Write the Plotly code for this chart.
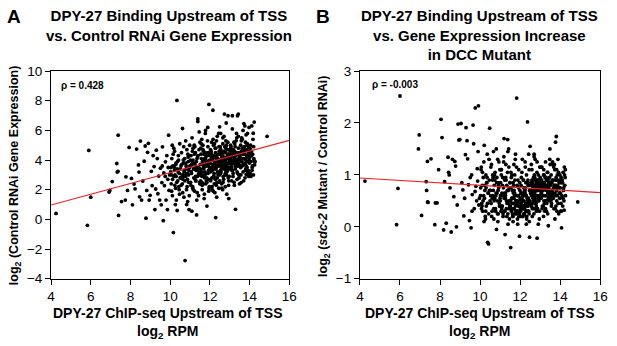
import plotly.graph_objects as go

# ---------------- data ----------------
# DPY-27 ChIP-seq upstream of TSS, log2 RPM (same genes in both panels)
x_rpm = [
    4.25,5.83,5.9,6.0,6.92,6.96,7.08,7.31,7.33,7.37,
    7.38,7.4,7.55,7.74,7.77,7.85,7.93,8.05,8.1,8.18,
    8.23,8.31,8.4,8.43,8.46,8.5,8.56,8.62,8.69,8.74,
    8.78,8.82,8.86,8.9,8.94,8.99,9.05,9.09,9.14,9.19,
    9.23,9.27,9.3,9.35,9.38,9.42,9.47,9.51,9.55,9.58,
    9.61,9.65,9.68,9.71,9.76,9.79,9.83,9.86,9.88,9.92,
    9.94,9.6,9.75,9.9,9.97,
    # 10.0-10.5
    10.02,10.05,10.08,10.11,10.13,10.16,10.19,10.22,10.24,10.27,
    10.29,10.31,10.34,10.36,10.38,10.41,10.43,10.46,10.48,10.5,
    10.03,10.07,10.12,10.18,10.21,10.26,10.33,10.37,10.42,10.47,
    10.06,10.15,10.23,10.28,10.35,10.4,10.45,10.1,10.2,10.3,
    # 10.5-11.0
    10.52,10.55,10.57,10.6,10.62,10.64,10.67,10.69,10.71,10.73,
    10.75,10.77,10.8,10.82,10.84,10.86,10.88,10.91,10.93,10.95,
    10.97,10.99,10.53,10.58,10.63,10.66,10.7,10.74,10.78,10.81,
    10.85,10.89,10.92,10.96,10.54,10.61,10.68,10.72,10.79,10.83,
    10.87,10.9,10.94,10.98,10.65,
    # 11.0-11.5
    11.01,11.03,11.05,11.07,11.09,11.11,11.13,11.15,11.17,11.19,
    11.21,11.23,11.25,11.27,11.29,11.31,11.33,11.35,11.37,11.39,
    11.41,11.43,11.45,11.47,11.49,11.02,11.06,11.1,11.14,11.18,
    11.22,11.26,11.3,11.34,11.38,11.42,11.46,11.04,11.08,11.12,
    11.16,11.2,11.24,11.28,11.32,11.36,11.4,11.44,11.48,11.5,
    11.0,11.15,11.27,11.39,11.45,
    # 11.5-12.0
    11.51,11.53,11.55,11.57,11.59,11.61,11.63,11.65,11.67,11.69,
    11.71,11.73,11.75,11.77,11.79,11.81,11.83,11.85,11.87,11.89,
    11.91,11.93,11.95,11.97,11.99,11.52,11.56,11.6,11.64,11.68,
    11.72,11.76,11.8,11.84,11.88,11.92,11.96,11.54,11.58,11.62,
    11.66,11.7,11.74,11.78,11.82,11.86,11.9,11.94,11.98,11.53,
    11.57,11.61,11.65,11.69,11.73,11.77,11.81,11.85,11.89,11.93,
    11.97,11.6,11.7,11.8,11.9,
    # 12.0-12.5
    12.01,12.03,12.05,12.07,12.09,12.11,12.13,12.15,12.17,12.19,
    12.21,12.23,12.25,12.27,12.29,12.31,12.33,12.35,12.37,12.39,
    12.41,12.43,12.45,12.47,12.49,12.02,12.06,12.1,12.14,12.18,
    12.22,12.26,12.3,12.34,12.38,12.42,12.46,12.5,12.04,12.08,
    12.12,12.16,12.2,12.24,12.28,12.32,12.36,12.4,12.44,12.48,
    12.03,12.07,12.11,12.15,12.19,12.23,12.27,12.31,12.35,12.39,
    12.43,12.47,12.05,12.13,12.21,12.29,12.37,12.45,12.09,12.17,
    12.25,12.33,12.41,12.49,12.12,
    # 12.5-13.0
    12.51,12.53,12.55,12.57,12.59,12.61,12.63,12.65,12.67,12.69,
    12.71,12.73,12.75,12.77,12.79,12.81,12.83,12.85,12.87,12.89,
    12.91,12.93,12.95,12.97,12.99,12.52,12.56,12.6,12.64,12.68,
    12.72,12.76,12.8,12.84,12.88,12.92,12.96,13.0,12.54,12.58,
    12.62,12.66,12.7,12.74,12.78,12.82,12.86,12.9,12.94,12.98,
    12.53,12.57,12.61,12.65,12.69,12.73,12.77,12.81,12.85,12.89,
    12.93,12.97,12.55,12.63,12.71,12.79,12.87,12.95,12.59,12.67,
    12.75,12.83,12.91,12.99,12.6,12.7,12.8,12.9,12.64,12.84,
    # 13.0-13.5
    13.01,13.03,13.05,13.07,13.09,13.11,13.13,13.15,13.17,13.19,
    13.21,13.23,13.25,13.27,13.29,13.31,13.33,13.35,13.37,13.39,
    13.41,13.43,13.45,13.47,13.49,13.02,13.06,13.1,13.14,13.18,
    13.22,13.26,13.3,13.34,13.38,13.42,13.46,13.5,13.04,13.08,
    13.12,13.16,13.2,13.24,13.28,13.32,13.36,13.4,13.44,13.48,
    13.05,13.13,13.21,13.29,13.37,13.45,13.09,13.17,13.25,13.33,
    13.41,13.49,13.03,13.11,13.19,13.27,13.35,13.43,13.15,13.31,
    # 13.5-14.0
    13.51,13.53,13.55,13.57,13.59,13.61,13.63,13.65,13.67,13.69,
    13.71,13.73,13.75,13.77,13.79,13.81,13.83,13.85,13.87,13.89,
    13.91,13.93,13.95,13.97,13.99,13.52,13.56,13.6,13.64,13.68,
    13.72,13.76,13.8,13.84,13.88,13.92,13.96,14.0,13.54,13.58,
    13.62,13.66,13.7,13.74,13.78,13.82,13.86,13.9,13.94,13.98,
    13.55,13.63,13.71,13.79,13.87,13.95,13.59,13.67,13.75,13.83,
    # 14.0+
    14.01,14.03,14.05,14.07,14.09,14.11,14.13,14.15,14.17,14.19,
    14.21,14.23,14.25,14.27,14.02,14.06,14.1,14.14,14.18,14.22,
    14.26,14.04,14.12,14.2,14.88,
]

# Panel A: log2 (Control RNAi gene expression)
y_ctrl = [
    0.4,-0.4,4.65,1.5,1.84,1.95,2.55,3.77,3.19,3.24,
    5.68,0.27,1.2,1.3,2.87,1.95,4.85,2.76,0.98,2.38,
    2.06,4.74,3.67,3.19,1.52,5.28,1.3,2.59,3.92,4.95,
    0.08,1.95,4.52,5.13,1.3,1.62,3.24,2.27,4.3,3.56,
    0.66,2.05,4.67,4.1,1.73,2.92,1.3,3.45,0.98,2.48,
    4.89,-0.09,3.13,2.27,3.88,1.3,4.3,0.66,2.7,5.68,
    1.95,3.6,2.9,3.5,3.0,
    # 10.0-10.5
    3.2,2.4,4.1,1.6,3.6,-0.89,2.9,4.6,3.0,2.1,
    3.8,1.3,8.02,3.4,2.6,4.3,2.2,3.1,5.1,2.8,
    3.5,1.9,2.7,4.8,3.3,1.0,2.5,3.9,4.0,1.7,
    3.0,4.4,2.3,3.7,0.6,3.2,2.0,5.0,3.5,2.9,
    # 10.5-11.0
    3.4,2.3,4.5,3.0,6.13,2.7,3.8,1.5,3.3,4.1,
    -2.78,2.9,3.6,2.0,4.7,3.1,1.2,3.9,2.5,0.66,
    3.5,4.3,2.8,3.7,1.8,4.0,3.2,2.6,5.3,3.4,
    2.2,4.4,3.0,1.6,3.6,2.4,4.9,3.1,3.8,1.0,
    2.7,4.2,3.3,5.0,2.9,
    # 11.0-11.5
    3.6,2.5,4.3,3.1,0.55,3.9,2.2,4.8,3.4,2.8,
    5.0,1.9,3.7,4.5,2.6,3.3,0.3,4.1,2.9,6.78,
    3.5,1.6,4.7,3.0,2.4,4.0,3.2,5.5,2.1,3.8,
    4.4,2.7,3.5,1.3,4.2,3.0,5.9,2.3,3.7,4.6,
    2.0,3.4,4.9,2.6,3.9,1.8,4.3,3.1,2.5,5.2,
    3.6,4.0,2.9,6.6,3.3,
    # 11.5-12.0
    3.7,2.6,4.4,3.2,5.4,2.0,3.9,4.7,2.9,3.5,
    1.4,4.1,3.0,5.8,2.4,3.6,4.3,0.9,3.8,2.7,
    4.5,3.3,7.75,2.2,4.0,3.4,5.1,2.5,3.9,4.6,
    1.7,3.1,4.2,2.8,5.3,3.6,2.1,4.8,3.0,3.7,
    2.4,4.4,3.2,6.0,2.6,3.9,4.9,1.9,3.5,3.0,
    4.1,2.3,5.0,3.4,2.8,4.5,3.8,2.5,6.2,3.2,
    4.3,2.9,3.6,4.0,3.1,
    # 12.0-12.5
    3.8,2.7,4.5,3.3,5.2,2.2,4.0,7.36,3.5,2.9,
    4.3,3.7,1.8,4.8,0.12,3.4,4.1,2.5,5.6,3.6,
    3.0,4.4,2.1,3.9,6.24,3.2,4.6,2.8,3.7,5.0,
    2.4,4.2,3.5,1.5,4.0,3.1,4.9,3.8,2.6,4.4,
    3.3,5.4,2.9,3.9,4.5,2.3,3.6,4.1,5.8,3.0,
    4.7,3.4,2.0,4.2,3.7,5.1,2.7,3.9,4.3,3.2,
    2.5,4.6,3.5,4.0,3.1,4.8,2.8,3.6,4.2,1.9,
    3.4,5.3,3.8,2.6,4.1,
    # 12.5-13.0
    4.0,3.1,4.7,3.6,2.4,4.3,3.8,5.5,2.9,4.1,
    3.4,7.1,3.9,2.2,4.5,3.7,5.0,1.7,4.2,3.3,
    6.99,3.8,2.6,4.4,3.5,4.9,3.2,4.0,2.0,3.7,
    4.6,3.0,5.3,4.1,3.5,2.8,4.3,3.9,5.8,3.4,
    4.5,2.5,3.8,4.2,3.1,6.5,3.6,4.7,2.3,4.0,
    3.3,4.4,3.9,5.1,2.7,4.1,3.5,4.8,3.2,3.8,
    4.3,2.9,4.6,3.6,5.6,4.0,3.4,1.4,4.2,3.7,
    4.9,3.0,4.4,3.8,2.1,4.5,3.3,5.2,3.9,4.1,
    # 13.0-13.5
    4.1,3.4,4.8,3.8,2.6,4.4,6.99,3.9,3.1,4.6,
    5.2,2.3,4.0,3.6,0.68,4.3,3.7,5.5,3.2,6.99,
    4.5,7.1,3.8,2.8,4.2,3.5,4.9,4.0,3.3,4.7,
    2.5,4.1,3.9,5.8,3.6,4.4,3.0,4.2,5.0,3.7,
    4.3,2.9,3.8,4.6,3.4,5.3,4.0,3.1,4.8,3.6,
    4.2,6.1,3.9,4.5,2.7,4.1,3.5,4.4,5.1,3.8,
    4.0,2.4,4.6,3.3,4.2,4.9,3.7,5.6,4.3,3.9,
    # 13.5-14.0
    4.3,3.6,5.0,2.48,4.6,3.9,5.4,4.1,3.2,4.8,
    6.46,3.7,4.4,2.8,5.2,4.0,3.02,4.7,3.5,5.8,
    4.2,3.3,4.9,6.2,3.8,4.5,3.0,5.5,4.1,3.7,
    4.7,6.3,3.4,4.3,5.1,3.9,2.9,4.6,4.0,5.3,
    3.6,4.4,2.6,4.9,3.8,5.7,4.2,3.1,4.5,4.0,
    3.5,4.8,4.1,3.3,5.0,4.3,3.9,6.0,4.6,3.6,
    # 14.0+
    4.2,3.1,5.0,3.9,4.6,6.3,3.5,4.4,5.4,3.0,
    4.1,6.56,3.67,3.9,4.8,2.9,4.3,3.6,5.81,4.0,
    3.88,4.5,3.3,4.9,5.6,
]

# Panel B: log2 (sdc-2 mutant / control RNAi)
y_sdc2 = [
    0.88,0.04,0.74,2.52,1.5,1.77,0.22,0.87,0.70,1.26,
    0.48,0.47,1.31,0.04,0.46,0.46,1.1,2.07,1.72,-0.06,
    0.87,0.07,1.34,1.05,1.0,0.75,-0.1,1.3,0.58,1.26,
    1.17,0.0,0.42,1.98,1.67,1.68,1.99,0.85,0.71,0.21,
    0.55,1.39,1.91,1.66,1.31,0.81,0.12,0.95,-0.02,1.0,
    0.62,1.96,1.6,0.35,2.29,0.78,0.5,1.12,0.88,2.33,
    0.42,0.3,0.68,1.45,0.55,
    # 10.0-10.5
    0.6,1.1,0.45,0.8,0.3,0.95,1.25,0.55,0.7,0.15,
    1.0,0.4,0.85,1.4,-0.3,0.65,0.25,0.9,1.9,0.5,
    0.75,0.35,1.05,0.6,1.57,0.2,0.85,0.45,-0.33,0.7,
    1.15,0.5,0.8,0.3,0.95,0.65,1.3,0.4,0.1,0.75,
    # 10.5-11.0
    0.7,0.45,1.2,0.3,0.9,0.6,1.45,0.15,0.8,0.55,
    1.05,0.35,0.65,-0.05,0.95,0.5,1.3,0.25,0.75,0.85,
    0.4,1.1,0.6,0.2,1.0,0.7,0.5,0.9,0.3,1.5,
    0.65,0.1,0.8,0.45,1.15,0.55,0.35,1.0,0.6,0.85,
    0.25,0.7,1.25,0.4,0.95,
    # 11.0-11.5
    0.5,0.85,0.3,1.1,0.65,0.4,0.95,0.2,0.75,1.35,
    0.55,0.9,-0.15,0.6,1.2,0.35,0.8,0.45,1.05,0.25,
    0.7,1.5,0.5,0.15,0.85,0.6,1.0,0.4,0.3,1.25,
    0.65,0.55,0.9,0.2,1.68,0.45,0.75,1.1,0.35,0.8,
    0.6,1.7,0.3,0.95,0.5,0.7,0.05,1.15,0.4,0.85,
    0.55,0.25,0.65,1.45,0.35,
    # 11.5-12.0
    0.4,-0.4,0.75,0.3,1.0,0.55,0.2,0.85,0.45,1.2,
    0.35,0.65,0.25,1.4,0.5,0.3,2.48,0.6,0.15,0.9,
    0.4,1.1,0.5,0.25,0.7,0.35,0.95,0.45,0.2,0.8,
    0.6,1.3,0.3,0.5,0.05,0.75,0.4,1.05,0.55,0.25,
    0.65,0.35,0.9,0.45,1.15,0.3,0.6,0.2,0.85,0.5,
    0.35,0.7,0.1,0.55,1.0,0.4,0.25,0.8,0.45,0.6,
    -0.18,0.35,0.7,0.5,0.3,
    # 12.0-12.5
    0.55,0.3,0.8,0.4,1.05,0.2,0.65,0.35,0.9,0.5,
    0.25,0.7,1.25,0.45,0.3,0.6,0.15,0.85,2.02,0.4,
    0.55,1.4,0.25,-0.2,0.7,0.35,0.95,0.5,0.2,0.75,
    0.4,1.15,0.6,0.3,0.85,0.45,0.1,1.55,0.65,0.35,
    0.5,0.9,0.25,0.7,0.4,1.0,0.55,0.3,0.8,0.45,
    0.2,0.65,1.3,0.4,0.6,0.35,0.75,0.05,0.5,0.9,
    0.3,0.7,0.45,0.6,0.25,0.85,0.4,1.1,0.55,0.35,
    0.65,0.2,0.8,0.5,0.4,
    # 12.5-13.0
    0.7,0.45,0.85,0.6,1.1,0.35,0.75,0.55,0.95,0.25,
    0.8,0.65,1.3,0.5,0.7,0.4,0.9,-0.22,0.6,0.8,
    1.0,0.55,0.75,0.3,0.85,0.65,1.2,0.45,0.7,0.9,
    0.35,0.8,0.6,1.05,0.5,0.75,0.15,0.95,0.7,0.4,
    0.85,0.6,1.4,0.55,0.8,0.3,0.7,0.9,0.5,1.15,
    0.65,0.8,0.2,0.75,0.6,0.95,0.45,0.85,1.25,0.7,
    0.55,0.8,0.4,0.65,1.0,0.75,0.35,0.6,0.9,0.5,
    0.8,0.7,0.05,0.85,0.6,1.35,0.45,0.75,0.65,0.9,
    # 13.0-13.5
    0.75,0.55,0.9,0.65,1.15,0.4,0.8,0.7,1.0,0.5,
    0.85,0.3,0.75,1.25,0.6,0.9,0.45,0.8,1.05,0.65,
    0.02,0.75,0.55,0.95,1.5,0.7,0.85,0.35,0.6,1.1,
    0.8,0.5,0.95,0.7,0.25,0.85,0.65,1.2,0.55,0.9,
    0.75,0.4,1.0,0.6,0.8,0.3,0.7,0.9,0.5,1.3,
    0.65,0.85,0.45,0.75,1.05,0.6,0.8,0.2,0.95,0.7,
    0.55,0.85,1.15,0.6,0.75,0.35,0.9,0.65,0.8,0.5,
    # 13.5-14.0
    0.8,0.6,1.0,0.45,0.85,0.7,1.2,0.55,0.9,0.35,
    0.75,1.1,0.65,1.63,0.8,1.74,0.5,0.9,0.6,1.3,
    0.75,0.25,0.85,0.65,1.0,0.7,0.4,0.9,0.55,1.15,
    0.8,0.6,0.95,0.3,0.75,1.05,0.65,0.85,0.5,0.7,
    1.25,0.6,0.8,0.15,0.9,0.7,1.0,0.45,0.75,0.55,
    0.85,0.65,1.2,0.4,0.8,0.9,0.6,0.75,0.35,1.1,
    # 14.0+
    0.75,0.3,0.95,-0.02,0.6,0.85,0.4,1.05,0.7,0.5,
    1.15,0.8,0.95,0.6,0.65,0.3,0.9,0.55,0.75,1.0,
    1.1,0.45,0.85,0.32,0.48,
]

# regression lines (end points)
fit_x = [4, 16]
fit_ctrl = [0.97, 5.33]
fit_sdc2 = [0.94, 0.66]

rho_ctrl = "ρ = 0.428"
rho_sdc2 = "ρ = -0.003"

x_ticks = [4, 6, 8, 10, 12, 14, 16]
y_ticks_a = [-4, -2, 0, 2, 4, 6, 8, 10]
y_ticks_b = [-1, 0, 1, 2, 3]

assert len(x_rpm) == len(y_ctrl) == len(y_sdc2), (len(x_rpm), len(y_ctrl), len(y_sdc2))

# ---------------- figure ----------------
W, H = 617, 346
FONT = "Liberation Sans, Arial, Helvetica, sans-serif"

def px(x):
    return x / W

def py(y):
    return 1 - y / H

fig = go.Figure()
dot = dict(color="black", size=3.8)
fig.add_trace(go.Scatter(x=x_rpm, y=y_ctrl, mode="markers", marker=dot,
                         xaxis="x", yaxis="y", showlegend=False))
fig.add_trace(go.Scatter(x=fit_x, y=fit_ctrl, mode="lines",
                         line=dict(color="#e3262b", width=1.2),
                         xaxis="x", yaxis="y", showlegend=False))
fig.add_trace(go.Scatter(x=x_rpm, y=y_sdc2, mode="markers", marker=dot,
                         xaxis="x2", yaxis="y2", showlegend=False))
fig.add_trace(go.Scatter(x=fit_x, y=fit_sdc2, mode="lines",
                         line=dict(color="#e3262b", width=1.2),
                         xaxis="x2", yaxis="y2", showlegend=False))

ax = dict(showline=True, linecolor="black", linewidth=1, mirror=True,
          ticks="outside", ticklen=5, tickwidth=1, tickcolor="black",
          showgrid=False, zeroline=False,
          tickfont=dict(family=FONT, size=13.5, color="black"))

fig.update_layout(
    width=W, height=H, margin=dict(l=0, r=0, t=0, b=0),
    paper_bgcolor="white", plot_bgcolor="white",
    font=dict(family=FONT, color="black"),
    xaxis=dict(ax, domain=[px(48), px(291)], range=[4, 16], tickvals=x_ticks, anchor="y"),
    yaxis=dict(ax, domain=[py(284), py(67)], range=[-4, 10], tickvals=y_ticks_a, anchor="x"),
    xaxis2=dict(ax, domain=[px(363), px(608)], range=[4, 16], tickvals=x_ticks, anchor="y2"),
    yaxis2=dict(ax, domain=[py(284), py(67)], range=[-1, 3], tickvals=y_ticks_b, anchor="x2"),
)

def ann(text, x, y, size, xanchor="center", yanchor="middle", angle=0, xref="paper", yref="paper"):
    fig.add_annotation(text=text, x=x, y=y, xref=xref, yref=yref, showarrow=False,
                       xanchor=xanchor, yanchor=yanchor, textangle=angle,
                       font=dict(family=FONT, size=size, color="black"))

# panel letters
ann("<b>A</b>", px(10.5), py(10), 19)
ann("<b>B</b>", px(325.5), py(10), 19)
# titles
ann("<b>DPY-27 Binding Upstream of TSS<br>vs. Control RNAi Gene Expression</b>",
    px(168), py(-2), 15, yanchor="top")
ann("<b>DPY-27 Binding Upstream of TSS<br>vs. Gene Expression Increase<br>in DCC Mutant</b>",
    px(485), py(-2), 15, yanchor="top")
# x axis titles
ann("<b>DPY-27 ChIP-seq Upstream of TSS<br>log<sub>2</sub> RPM</b>", px(167), py(309), 14, yanchor="top")
ann("<b>DPY-27 ChIP-seq Upstream of TSS<br>log<sub>2</sub> RPM</b>", px(485), py(309), 14, yanchor="top")
# y axis titles
ann("<b>log<sub>2</sub> (Control RNAi Gene Expression)</b>", px(12), py(176), 12.5, angle=-90)
ann("<b>log<sub>2</sub> (<i>sdc-2</i> Mutant / Control RNAi)</b>", px(327), py(177), 12.5, angle=-90)
# correlation labels
ann("<b>" + rho_ctrl + "</b>", 4.4, 9.0, 10, xanchor="left", xref="x", yref="y")
ann("<b>" + rho_sdc2 + "</b>", 4.48, 2.75, 10, xanchor="left", xref="x2", yref="y2")

fig.write_html("out.html", config={"displayModeBar": False},
               post_script="document.body.style.margin='0px';")
